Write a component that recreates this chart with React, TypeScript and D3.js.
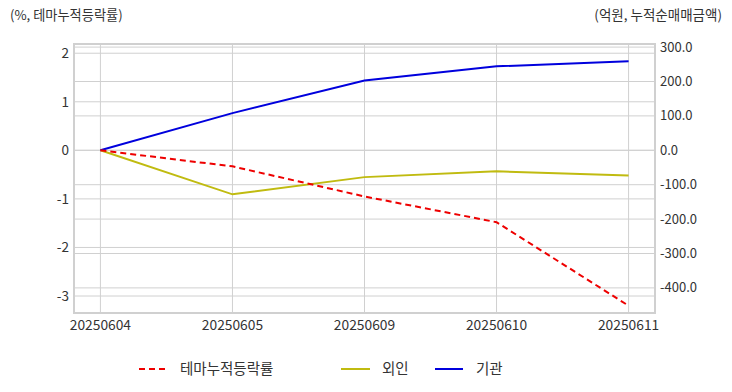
import React from "react";
import * as d3 from "d3";

const categories = ["20250604", "20250605", "20250609", "20250610", "20250611"];
const themeRate = [0, -0.33, -0.95, -1.48, -3.2];
const foreign = [0, -128, -78, -61, -73];
const institution = [0, 108, 203, 244, 259];
const leftTicks = [2, 1, 0, -1, -2, -3];
const rightTicks = [300, 200, 100, 0, -100, -200, -300, -400];

const W = 732, H = 392;
const L = 74, R = 655, T = 44, B = 313;
const FONT = "'Noto Sans CJK KR', 'Noto Sans', sans-serif";

export default function App() {
  const x = d3.scalePoint<string>().domain(categories).range([L, R]).padding(0.2);
  const yL = d3.scaleLinear().domain([-3.35, 2.19]).range([B, T]);
  const yR = d3.scaleLinear().domain([-473, 309]).range([B, T]);

  const lineL = d3.line<number>().x((_, i) => x(categories[i])!).y((d) => yL(d));
  const lineR = d3.line<number>().x((_, i) => x(categories[i])!).y((d) => yR(d));

  const grid = "#d0d0d0";
  const txt = "#333";

  return (
    <svg width={W} height={H} style={{ position: "absolute", left: 0, top: 0, fontFamily: FONT }}>
      <rect width={W} height={H} fill="#fff" />
      {leftTicks.map((t) => (
        <line key={"lg" + t} x1={L} x2={R} y1={yL(t)} y2={yL(t)} stroke={grid} strokeWidth={1} />
      ))}
      {rightTicks.map((t) => (
        <line key={"rg" + t} x1={L} x2={R} y1={yR(t)} y2={yR(t)} stroke={grid} strokeWidth={1} />
      ))}
      {categories.map((c) => (
        <line key={"vg" + c} x1={x(c)} x2={x(c)} y1={T} y2={B} stroke={grid} strokeWidth={1} />
      ))}
      <rect x={L} y={T} width={R - L} height={B - T} fill="none" stroke={grid} strokeWidth={2} />

      <path d={lineR(foreign)!} fill="none" stroke="#c0bb10" strokeWidth={2} />
      <path d={lineR(institution)!} fill="none" stroke="#0000dd" strokeWidth={2} />
      <path d={lineL(themeRate)!} fill="none" stroke="#ee0000" strokeWidth={2} strokeDasharray="6,4" />

      {leftTicks.map((t) => (
        <text key={"lt" + t} x={L - 5} y={yL(t)} dy="0.35em" textAnchor="end" fontSize={13.5} fill={txt}>
          {t}
        </text>
      ))}
      {rightTicks.map((t) => (
        <text key={"rt" + t} x={R + 5} y={yR(t)} dy="0.35em" textAnchor="start" fontSize={13} fill={txt}>
          {t.toFixed(1)}
        </text>
      ))}
      {categories.map((c) => (
        <text key={"xt" + c} x={x(c)} y={B + 17} textAnchor="middle" fontSize={13.8} fill={txt}>
          {c}
        </text>
      ))}

      <text x={10} y={20} fontSize={13.2} fill={txt}>(%, 테마누적등락률)</text>
      <text x={722} y={20} fontSize={13.5} fill={txt} textAnchor="end">(억원, 누적순매매금액)</text>

      <line x1={139} x2={167} y1={369} y2={369} stroke="#ee0000" strokeWidth={2} strokeDasharray="6,4" />
      <text x={180} y={369} dy="0.35em" fontSize={14.5} fill={txt}>테마누적등락률</text>
      <line x1={341} x2={370} y1={369} y2={369} stroke="#c0bb10" strokeWidth={2} />
      <text x={382} y={369} dy="0.35em" fontSize={14.5} fill={txt}>외인</text>
      <line x1={435} x2={463} y1={369} y2={369} stroke="#0000dd" strokeWidth={2} />
      <text x={476} y={369} dy="0.35em" fontSize={14.5} fill={txt}>기관</text>
    </svg>
  );
}
